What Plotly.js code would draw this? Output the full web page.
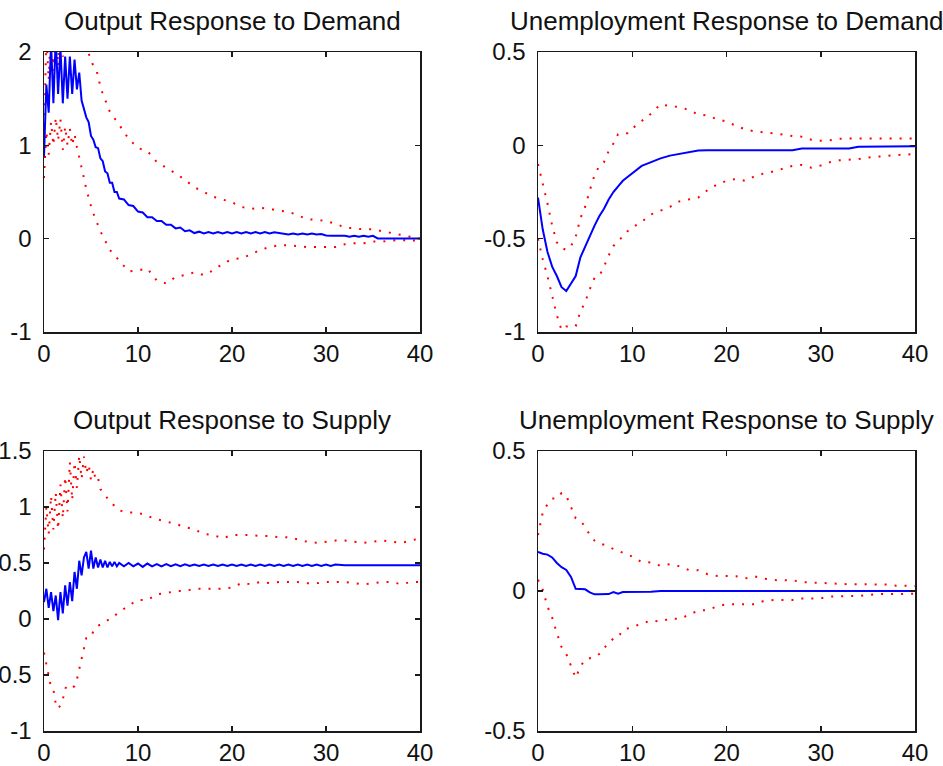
<!DOCTYPE html>
<html><head><meta charset="utf-8">
<script src="https://cdn.plot.ly/plotly-3.0.1.min.js"></script>
<style>html,body{margin:0;padding:0;background:#fff;overflow:hidden}#chart{width:943px;height:766px}</style>
</head><body><div id="chart"></div>
<script>
// Panel titles
const titles = ["Output Response to Demand","Unemployment Response to Demand","Output Response to Supply","Unemployment Response to Supply"];
const xTickVals = [0,10,20,30,40];

// ---- Output Response to Demand ----
const odMidEarly = [0.88,1.65,1.35,2.1,1.45,2.15,1.55,2.05,1.45,1.95,1.5,1.95,1.55,1.92,1.6,1.78,1.48,1.4,1.3,1.25,1.1,1.06,0.98,0.97,0.86,0.83,0.72,0.7,0.6,0.6,0.5,0.5,0.43];
const odMidLate = [0.42,0.36,0.35,0.29,0.28,0.23,0.23,0.19,0.19,0.15,0.15,0.11,0.12,0.08,0.09,0.06,
  0.075,0.055,0.07,0.055,0.07,0.055,0.07,0.055,0.07,0.055,0.07,0.055,0.07,0.055,0.07,0.055,0.068,0.06,
  0.05,0.045,0.055,0.045,0.055,0.045,0.055,0.045,0.05,0.035,
  0.032,0.032,0.032,0.032,0.02,0.032,0.02,0.032,0.02,0.03,
  0.003,0.003,0.003,0.003,0.003,0.003,0.003,0.003,0.003,0.003];
const odUpEarly = [1.0,2.2,1.7,2.3,1.8,2.4,1.85,2.5,1.95,2.5,2.0,2.5,2.1,2.5,2.2,2.4,2.2,2.2,2.05,1.98,1.9,1.85,1.82,1.75,1.62];
const odUpLate = [1.36,1.22,1.07,0.97,0.94,0.82,0.76,0.7,0.63,0.55,0.5,0.45,0.42,0.39,0.34,0.32,0.33,0.32,0.3,0.29,0.25,0.21,0.2,0.19,0.16,0.12,0.11,0.1,0.1,0.08,0.06,0.04,0.02,0.0];
const odLoEarly = [0.65,1.15,0.9,1.25,1.0,1.3,1.05,1.28,0.95,1.2,1.0,1.18,1.0,1.12,0.98,0.88,0.77,0.65,0.53,0.43,0.35,0.27,0.2,0.14,0.08];
const odLoLate = [-0.12,-0.24,-0.35,-0.34,-0.32,-0.45,-0.48,-0.41,-0.39,-0.36,-0.39,-0.34,-0.27,-0.22,-0.21,-0.17,-0.12,-0.09,-0.07,-0.07,-0.08,-0.09,-0.09,-0.09,-0.09,-0.06,-0.05,-0.05,-0.03,-0.03,-0.02,-0.01,-0.03,0.0];

// ---- Unemployment Response to Demand ----
const udMidEarly = [-0.28,-0.45,-0.57,-0.65,-0.7,-0.76,-0.78,-0.74,-0.7,-0.6,-0.54,-0.49,-0.43,-0.38,-0.34,-0.29,-0.25,-0.22,-0.19,-0.17,-0.15];
const udMidLate = [-0.11,-0.09,-0.07,-0.055,-0.045,-0.035,-0.028,
  -0.026,-0.026,-0.026,-0.026,-0.026,-0.026,-0.026,-0.026,-0.026,-0.026,
  -0.017,-0.017,-0.017,-0.017,-0.017,-0.017,
  -0.008,-0.008,-0.008,-0.008,-0.008,-0.008,-0.005];
const udUpEarly = [-0.1,-0.2,-0.31,-0.43,-0.52,-0.55,-0.56,-0.54,-0.49,-0.39,-0.33,-0.24,-0.16,-0.11,-0.09,-0.03,0.01,0.06,0.065,0.065,0.09];
const udUpLate = [0.13,0.17,0.22,0.21,0.205,0.19,0.165,0.16,0.14,0.127,0.105,0.085,0.075,0.07,0.065,0.058,0.05,0.046,0.03,0.025,0.027,0.035,0.037,0.037,0.037,0.037,0.037,0.037,0.037,0.037];
const udLoEarly = [-0.5,-0.61,-0.7,-0.81,-0.91,-0.99,-0.97,-0.97,-0.97,-0.89,-0.84,-0.77,-0.71,-0.7,-0.65,-0.59,-0.54,-0.51,-0.49,-0.46,-0.44];
const udLoLate = [-0.41,-0.37,-0.35,-0.33,-0.3,-0.29,-0.28,-0.24,-0.21,-0.19,-0.18,-0.19,-0.165,-0.15,-0.14,-0.125,-0.11,-0.105,-0.12,-0.108,-0.09,-0.08,-0.078,-0.074,-0.065,-0.06,-0.055,-0.052,-0.05,-0.046];

// ---- Output Response to Supply ----
const osMidEarly = [0.15,0.27,0.1,0.24,0.07,0.21,-0.01,0.24,0.05,0.3,0.12,0.33,0.16,0.42,0.27,0.52,0.39,0.55,0.6,0.45,0.61,0.45,0.55,0.46,0.53,0.46,0.52,0.46,0.51,0.47,0.51,0.47,0.5];
const osMidLate = [0.47,0.5,0.47,0.495,0.465,0.495,0.47,0.49,0.47,0.49,0.472,0.488,0.472,0.488,
  0.474,0.486,0.474,0.486,0.474,0.486,0.474,0.486,0.474,0.486,0.474,0.486,0.474,0.486,0.474,0.486,
  0.474,0.486,0.474,0.486,0.474,0.486,0.474,0.486,0.474,0.486,0.474,0.486,0.474,0.486,0.474,0.486,
  0.48,0.48,0.48,0.48,0.48,0.48,0.48,0.48,0.48,0.48,0.48,0.48,0.48,0.48,0.48,0.48,0.48,0.48];
const osUpEarly = [0.62,1.0,0.76,1.1,0.8,1.13,0.8,1.2,0.9,1.27,0.96,1.4,1.06,1.4,1.17,1.46,1.25,1.45,1.3,1.38,1.24,1.34,1.24,1.26,1.16];
const osUpLate = [1.05,0.97,0.95,0.95,0.92,0.89,0.87,0.85,0.82,0.8,0.76,0.75,0.72,0.75,0.75,0.75,0.74,0.74,0.73,0.73,0.71,0.69,0.68,0.69,0.7,0.7,0.69,0.68,0.69,0.7,0.69,0.68,0.7,0.72];
const osLoEarly = [-0.3,-0.4,-0.5,-0.61,-0.63,-0.76,-0.8,-0.77,-0.72,-0.62,-0.6,-0.62,-0.61,-0.6,-0.54,-0.44,-0.34,-0.26,-0.17,-0.16,-0.16,-0.11,-0.09,-0.06,-0.05];
const osLoLate = [0.0,0.06,0.12,0.17,0.17,0.22,0.23,0.25,0.25,0.27,0.27,0.27,0.27,0.28,0.32,0.31,0.33,0.32,0.33,0.33,0.33,0.32,0.32,0.33,0.33,0.33,0.32,0.31,0.32,0.33,0.33,0.31,0.33,0.33];

// ---- Unemployment Response to Supply ----
const usMidEarly = [0.14,0.133,0.13,0.12,0.1,0.085,0.075,0.05,0.008,0.008,0.006,-0.005,-0.012,-0.012,-0.012,-0.011,-0.004,-0.01,-0.004,-0.004,-0.004];
const usMidLate = [-0.004,-0.003,0,0,0,0,0,0,0,0,0,0,0,0,0,0,0,0,0,0,0,0,0,0,0,0,0,0,0,0];
const usUpEarly = [0.2,0.28,0.31,0.33,0.33,0.35,0.34,0.3,0.26,0.25,0.23,0.2,0.18,0.17,0.165,0.157,0.15,0.143,0.137,0.13,0.123];
const usUpLate = [0.103,0.102,0.09,0.096,0.088,0.075,0.074,0.06,0.054,0.053,0.053,0.045,0.052,0.044,0.039,0.038,0.038,0.032,0.03,0.03,0.026,0.024,0.024,0.024,0.024,0.024,0.023,0.019,0.018,0.018];
const usLoEarly = [0.04,0.005,-0.055,-0.095,-0.15,-0.2,-0.225,-0.265,-0.31,-0.27,-0.245,-0.24,-0.236,-0.225,-0.205,-0.185,-0.17,-0.165,-0.14,-0.134,-0.128];
const usLoLate = [-0.118,-0.105,-0.11,-0.098,-0.1,-0.085,-0.07,-0.068,-0.055,-0.047,-0.047,-0.047,-0.047,-0.035,-0.032,-0.032,-0.032,-0.027,-0.026,-0.026,-0.02,-0.018,-0.018,-0.018,-0.014,-0.011,-0.011,-0.011,-0.011,-0.01];

// y-axis settings per panel
const yRanges = [[-1,2],[-1,0.5],[-1,1.5],[-0.5,0.5]];
const yTickVals = [[-1,0,1,2],[-1,-0.5,0,0.5],[-1,-0.5,0,0.5,1,1.5],[-0.5,0,0.5]];
const yTickText = [["-1","0","1","2"],["-1","-0.5","0","0.5"],["-1","-0.5","0","0.5","1","1.5"],["-0.5","0","0.5"]];

// horizon grids (steps of the impulse-response horizon)
function grid(a,b,s){const r=[];for(let v=a;v<=b+1e-9;v+=s)r.push(Math.round(v*100)/100);return r;}
const hFine = grid(0,8,0.25).concat(grid(8.5,40,0.5));
const hBand = grid(0,6,0.25).concat(grid(7,40,1));
const hHalf = grid(0,10,0.5).concat(grid(11,40,1));

const panels = [
  {mx:hFine, m:odMidEarly.concat(odMidLate), bx:hBand, up:odUpEarly.concat(odUpLate), lo:odLoEarly.concat(odLoLate)},
  {mx:hHalf, m:udMidEarly.concat(udMidLate), bx:hHalf, up:udUpEarly.concat(udUpLate), lo:udLoEarly.concat(udLoLate)},
  {mx:hFine, m:osMidEarly.concat(osMidLate), bx:hBand, up:osUpEarly.concat(osUpLate), lo:osLoEarly.concat(osLoLate)},
  {mx:hHalf, m:usMidEarly.concat(usMidLate), bx:hHalf, up:usUpEarly.concat(usUpLate), lo:usLoEarly.concat(usLoLate)}
];

const W=943,H=766;
const boxes = [ // pixel boxes [left,right,top,bottom]
  [44,420,52,332],[538,915,52,332],[44,420,451,731],[538,915,451,731]
];
const FONT = "Liberation Sans, Arial, Helvetica, sans-serif";
const data=[]; const layout={width:W,height:H,margin:{l:0,r:0,t:0,b:0},paper_bgcolor:'#fff',plot_bgcolor:'#fff',showlegend:false,annotations:[]};
const redLine={color:'#ff0000',width:2,dash:'2px,8px'};
panels.forEach((p,i)=>{
  const s = i===0?'':String(i+1);
  const xa='x'+s, ya='y'+s;
  data.push({x:p.bx,y:p.up,xaxis:xa,yaxis:ya,mode:'lines',line:redLine,hoverinfo:'skip'});
  data.push({x:p.bx,y:p.lo,xaxis:xa,yaxis:ya,mode:'lines',line:redLine,hoverinfo:'skip'});
  data.push({x:p.mx,y:p.m,xaxis:xa,yaxis:ya,mode:'lines',line:{color:'#0000ff',width:2},hoverinfo:'skip'});
  const b=boxes[i];
  const common={showline:true,linecolor:'#1a1a1a',linewidth:1.5,mirror:'allticks',ticks:'inside',ticklen:5,tickwidth:1.5,tickcolor:'#1a1a1a',showgrid:false,zeroline:false,fixedrange:true,tickfont:{family:FONT,size:24,color:'#111'}};
  layout['xaxis'+s]=Object.assign({},common,{domain:[b[0]/W,b[1]/W],range:[0,40],autorange:false,tickmode:'array',tickvals:xTickVals,ticktext:xTickVals.map(String),anchor:ya});
  layout['yaxis'+s]=Object.assign({},common,{domain:[1-b[3]/H,1-b[2]/H],range:yRanges[i],autorange:false,tickmode:'array',tickvals:yTickVals[i],ticktext:yTickText[i],ticklabelstandoff:6,anchor:xa});
  layout.annotations.push({text:titles[i],xref:'paper',yref:'paper',x:(b[0]+b[1])/2/W,y:1-b[2]/H,xanchor:'center',yanchor:'bottom',yshift:14,showarrow:false,font:{family:FONT,size:26,color:'#111'}});
});
Plotly.newPlot('chart',data,layout,{staticPlot:true,displayModeBar:false});
</script></body></html>
